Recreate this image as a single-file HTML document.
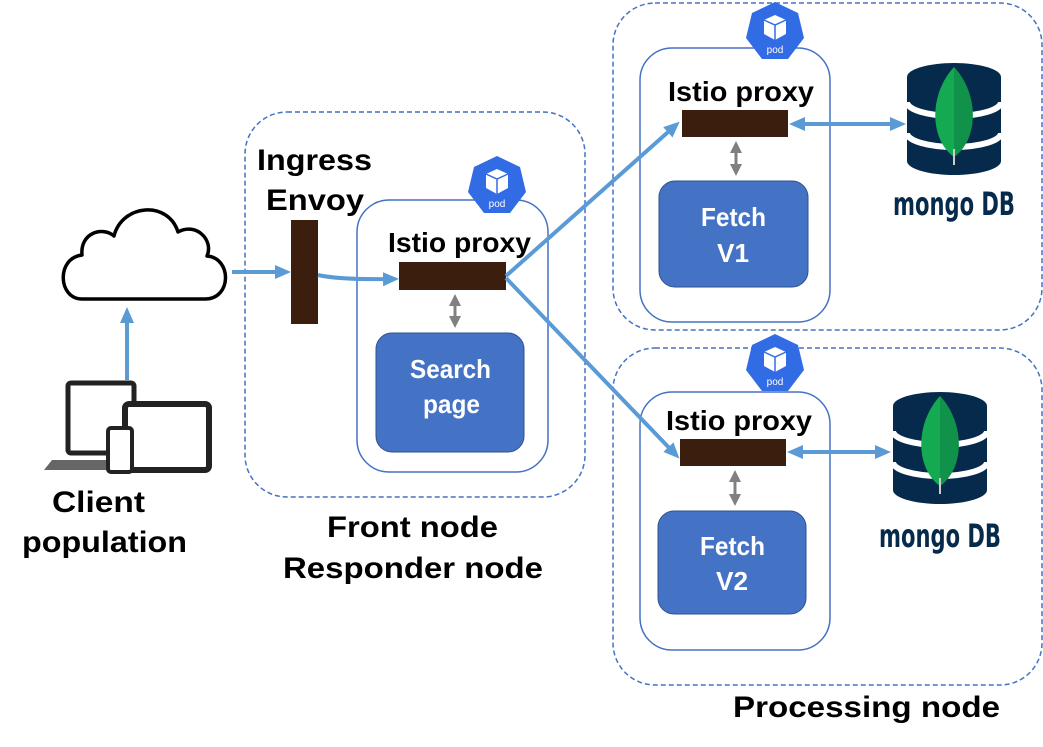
<!DOCTYPE html>
<html><head><meta charset="utf-8"><style>
html,body{margin:0;padding:0;background:#fff}
svg{display:block}
text{font-family:"Liberation Sans",Arial,sans-serif;font-weight:bold}
</style></head><body>
<svg width="1043" height="747" viewBox="0 0 1043 747" xmlns="http://www.w3.org/2000/svg">
<defs>
<marker id="ab" markerWidth="16" markerHeight="16" refX="11" refY="8" orient="auto-start-reverse" markerUnits="userSpaceOnUse"><path d="M0,1 L16,8 L0,15 z" fill="#5b9bd5"/></marker>
<marker id="ag" markerWidth="12" markerHeight="12" refX="6" refY="6" orient="auto-start-reverse" markerUnits="userSpaceOnUse"><path d="M0,0 L12,6 L0,12 z" fill="#808080"/></marker>
</defs>

<rect x="245" y="112" width="340" height="385" rx="42" fill="none" stroke="#4472c4" stroke-width="1.5" stroke-dasharray="5,3"/>
<rect x="613" y="3" width="429" height="327" rx="42" fill="none" stroke="#4472c4" stroke-width="1.5" stroke-dasharray="5,3"/>
<rect x="613" y="348" width="429" height="337" rx="42" fill="none" stroke="#4472c4" stroke-width="1.5" stroke-dasharray="5,3"/>

<rect x="357" y="200" width="191" height="272" rx="32" fill="none" stroke="#4472c4" stroke-width="1.5"/>
<rect x="640" y="48" width="190" height="274" rx="32" fill="none" stroke="#4472c4" stroke-width="1.5"/>
<rect x="640" y="392" width="190" height="258" rx="32" fill="none" stroke="#4472c4" stroke-width="1.5"/>

<g transform="translate(497,186)">
<polygon points="0,-30 23,-19 29,6 13,27 -13,27 -29,6 -23,-19" fill="#326ce5"/>
<path d="M-11,-12 L0,-17 L11,-12 L11,2 L0,8 L-11,2 z" fill="#fff"/>
<path d="M-11,-12 L0,-7 L11,-12 M0,-7 L0,8" stroke="#326ce5" stroke-width="1.5" fill="none"/>
<text x="0" y="21" text-anchor="middle" font-size="10" fill="#fff" style="font-weight:normal">pod</text>
</g>
<g transform="translate(775,32)">
<polygon points="0,-30 23,-19 29,6 13,27 -13,27 -29,6 -23,-19" fill="#326ce5"/>
<path d="M-11,-12 L0,-17 L11,-12 L11,2 L0,8 L-11,2 z" fill="#fff"/>
<path d="M-11,-12 L0,-7 L11,-12 M0,-7 L0,8" stroke="#326ce5" stroke-width="1.5" fill="none"/>
<text x="0" y="21" text-anchor="middle" font-size="10" fill="#fff" style="font-weight:normal">pod</text>
</g>
<g transform="translate(775,364)">
<polygon points="0,-30 23,-19 29,6 13,27 -13,27 -29,6 -23,-19" fill="#326ce5"/>
<path d="M-11,-12 L0,-17 L11,-12 L11,2 L0,8 L-11,2 z" fill="#fff"/>
<path d="M-11,-12 L0,-7 L11,-12 M0,-7 L0,8" stroke="#326ce5" stroke-width="1.5" fill="none"/>
<text x="0" y="21" text-anchor="middle" font-size="10" fill="#fff" style="font-weight:normal">pod</text>
</g>

<rect x="291" y="220" width="27" height="104" fill="#3b1e0d"/>
<rect x="399" y="262" width="107" height="28" fill="#3b1e0d"/>
<rect x="682" y="110" width="106" height="27" fill="#3b1e0d"/>
<rect x="680" y="439" width="106" height="27" fill="#3b1e0d"/>

<rect x="376" y="333" width="148" height="119" rx="16" fill="#4472c4" stroke="#2f528f" stroke-width="1"/>
<text x="410" y="378" font-size="26" fill="#fff" textLength="81" lengthAdjust="spacingAndGlyphs">Search</text>
<text x="423" y="413" font-size="26" fill="#fff" textLength="57" lengthAdjust="spacingAndGlyphs">page</text>
<rect x="659" y="181" width="149" height="106" rx="16" fill="#4472c4" stroke="#2f528f" stroke-width="1"/>
<text x="701" y="226" font-size="26" fill="#fff" textLength="65" lengthAdjust="spacingAndGlyphs">Fetch</text>
<text x="717" y="262" font-size="26" fill="#fff" textLength="32" lengthAdjust="spacingAndGlyphs">V1</text>
<rect x="658" y="511" width="148" height="103" rx="16" fill="#4472c4" stroke="#2f528f" stroke-width="1"/>
<text x="700" y="555" font-size="26" fill="#fff" textLength="65" lengthAdjust="spacingAndGlyphs">Fetch</text>
<text x="716" y="590" font-size="26" fill="#fff" textLength="32" lengthAdjust="spacingAndGlyphs">V2</text>

<text x="388" y="252" font-size="28" textLength="143" lengthAdjust="spacingAndGlyphs">Istio proxy</text>
<text x="668" y="101" font-size="28" textLength="146" lengthAdjust="spacingAndGlyphs">Istio proxy</text>
<text x="666" y="430" font-size="28" textLength="146" lengthAdjust="spacingAndGlyphs">Istio proxy</text>
<text x="257" y="170" font-size="30" textLength="115" lengthAdjust="spacingAndGlyphs">Ingress</text>
<text x="266" y="210" font-size="30" textLength="98" lengthAdjust="spacingAndGlyphs">Envoy</text>
<text x="52" y="512" font-size="30" textLength="93" lengthAdjust="spacingAndGlyphs">Client</text>
<text x="22" y="552" font-size="30" textLength="165" lengthAdjust="spacingAndGlyphs">population</text>
<text x="327" y="537" font-size="30" textLength="171" lengthAdjust="spacingAndGlyphs">Front node</text>
<text x="283" y="578" font-size="30" textLength="260" lengthAdjust="spacingAndGlyphs">Responder node</text>
<text x="733" y="717" font-size="30" textLength="267" lengthAdjust="spacingAndGlyphs">Processing node</text>

<path d="M82,299 C58,299 56,258 82,255 C80,233 102,226 114,236 C122,204 168,200 178,232 C196,222 214,240 207,256 C232,258 232,299 205,299 Z" fill="#fff" stroke="#000" stroke-width="3.5" stroke-linejoin="round"/>

<rect x="68" y="383" width="66" height="70" rx="3" fill="#fff" stroke="#222" stroke-width="5"/>
<path d="M44,470 L52,460 L140,460 L145,470 Z" fill="#666"/>
<rect x="125" y="404" width="84" height="66" rx="4" fill="#fff" stroke="#222" stroke-width="6"/>
<rect x="108" y="428" width="24" height="44" rx="3" fill="#fff" stroke="#222" stroke-width="4"/>

<g stroke="#5b9bd5" stroke-width="4" fill="none">
<line x1="127" y1="380" x2="127" y2="312" marker-end="url(#ab)"/>
<line x1="232" y1="272" x2="286" y2="272" marker-end="url(#ab)"/>
<path d="M318,275 Q340,280 394,279" marker-end="url(#ab)"/>
<line x1="506" y1="276" x2="676" y2="125" marker-end="url(#ab)"/>
<line x1="506" y1="278" x2="676" y2="455" marker-end="url(#ab)"/>
<line x1="794" y1="124" x2="901" y2="124" marker-start="url(#ab)" marker-end="url(#ab)"/>
<line x1="792" y1="452" x2="886" y2="452" marker-start="url(#ab)" marker-end="url(#ab)"/>
</g>
<g stroke="#808080" stroke-width="3">
<line x1="455" y1="300" x2="455" y2="322" marker-start="url(#ag)" marker-end="url(#ag)"/>
<line x1="736" y1="147" x2="736" y2="170" marker-start="url(#ag)" marker-end="url(#ag)"/>
<line x1="735" y1="476" x2="735" y2="500" marker-start="url(#ag)" marker-end="url(#ag)"/>
</g>

<g transform="translate(954,119)">
<path d="M-47,-42 A47,14 0 0 1 47,-42 L47,42 A47,14 0 0 1 -47,42 Z" fill="#062a4b"/>
<path d="M-47,-17 A47,14 0 0 0 47,-17 M-47,14 A47,14 0 0 0 47,14" stroke="#fff" stroke-width="6" fill="none"/>
<path d="M0,-52 C-25,-25 -25,20 0,38 C25,20 25,-25 0,-52 Z" fill="#13aa52"/>
<path d="M0,-52 C25,-25 25,20 0,38 Z" fill="#10924a"/>
<line x1="0" y1="30" x2="0" y2="46" stroke="#ccc" stroke-width="2"/>
<text x="-61" y="96" font-size="32" fill="#062a4b" style="font-family:'DejaVu Sans Condensed','Liberation Sans Narrow',sans-serif;font-weight:bold" textLength="122" lengthAdjust="spacingAndGlyphs">mongo DB</text>
</g>
<g transform="translate(940,448)">
<path d="M-47,-42 A47,14 0 0 1 47,-42 L47,42 A47,14 0 0 1 -47,42 Z" fill="#062a4b"/>
<path d="M-47,-17 A47,14 0 0 0 47,-17 M-47,14 A47,14 0 0 0 47,14" stroke="#fff" stroke-width="6" fill="none"/>
<path d="M0,-52 C-25,-25 -25,20 0,38 C25,20 25,-25 0,-52 Z" fill="#13aa52"/>
<path d="M0,-52 C25,-25 25,20 0,38 Z" fill="#10924a"/>
<line x1="0" y1="30" x2="0" y2="46" stroke="#ccc" stroke-width="2"/>
<text x="-61" y="99" font-size="32" fill="#062a4b" style="font-family:'DejaVu Sans Condensed','Liberation Sans Narrow',sans-serif;font-weight:bold" textLength="122" lengthAdjust="spacingAndGlyphs">mongo DB</text>
</g>
</svg>
</body></html>
